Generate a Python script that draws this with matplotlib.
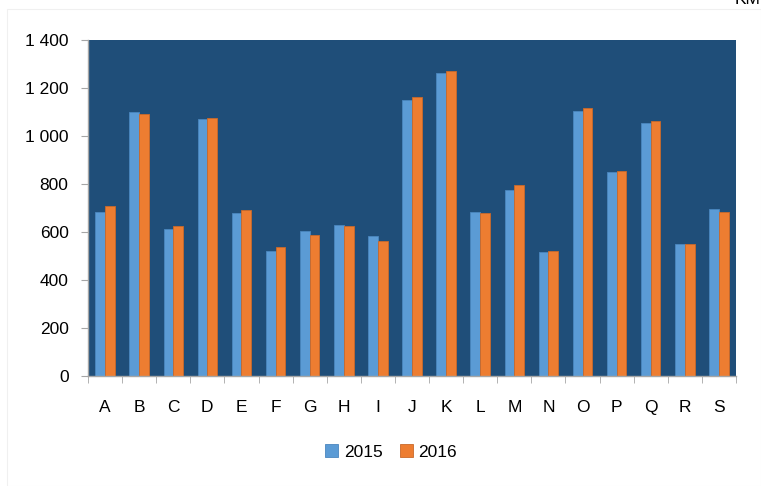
import matplotlib
matplotlib.use("Agg")
import matplotlib.pyplot as plt
import numpy as np
from matplotlib.patches import Rectangle

categories = ["A", "B", "C", "D", "E", "F", "G", "H", "I", "J", "K", "L", "M", "N", "O", "P", "Q", "R", "S"]
v2015 = [682, 1098, 613, 1069, 680, 522, 604, 631, 582, 1151, 1263, 684, 774, 515, 1106, 852, 1055, 552, 697]
v2016 = [710, 1091, 627, 1076, 690, 539, 586, 627, 564, 1162, 1271, 680, 795, 519, 1116, 856, 1062, 548, 685]
series_names = ["2015", "2016"]
yticks = [0, 200, 400, 600, 800, 1000, 1200, 1400]
ytick_labels = ["0", "200", "400", "600", "800", "1 000", "1 200", "1 400"]

plt.rcParams['font.family'] = ['Liberation Sans', 'DejaVu Sans']

W, H = 761, 486
fig = plt.figure(figsize=(W / 100, H / 100), dpi=100)
ax = fig.add_axes([88 / W, 1 - 376 / H, (736 - 88) / W, (376 - 40) / H])
ax.set_facecolor("#1F4E79")

# faint outer chart border
fig.patches.append(Rectangle((7 / W, 0.5 / H), (W - 7) / W, (H - 10) / H, transform=fig.transFigure,
                             fill=False, edgecolor="#F0F0F0", linewidth=0.8))

x = np.arange(len(categories))
bw = 0.285
ax.bar(x - bw / 2, v2015, bw, color="#5B9BD5", edgecolor="#4A86BE", linewidth=0.6, label=series_names[0])
ax.bar(x + bw / 2, v2016, bw, color="#ED7D31", edgecolor="#C9692A", linewidth=0.6, label=series_names[1])

ax.set_xlim(-0.5, len(categories) - 0.5)
ax.set_ylim(0, 1400)
ax.set_yticks(yticks)
ax.set_yticklabels(ytick_labels, fontsize=12.5)
ax.set_xticks(x)
ax.set_xticklabels(categories, fontsize=12.5)
ax.tick_params(axis='x', length=0, pad=17)
ax.set_xticks(np.arange(-0.5, len(categories), 1), minor=True)
ax.tick_params(axis='x', which='minor', length=5, color="#A6A6A6", direction='out')
ax.tick_params(axis='y', length=5, color="#A6A6A6", direction='out', pad=9)

for s in ["top", "right"]:
    ax.spines[s].set_visible(False)
for s in ["left", "bottom"]:
    ax.spines[s].set_color("#A6A6A6")
    ax.spines[s].set_linewidth(1.0)

leg = fig.legend(loc="center", bbox_to_anchor=(391 / W, 1 - 452 / H), ncol=2, frameon=False,
                 fontsize=12.5, handlelength=0.75, handleheight=0.75, handletextpad=0.3, columnspacing=1.0)

fig.text(748 / W, 1 - 4 / H, "KM", fontsize=12.5, ha="center", va="baseline")

fig.savefig("out.png", dpi=100)
